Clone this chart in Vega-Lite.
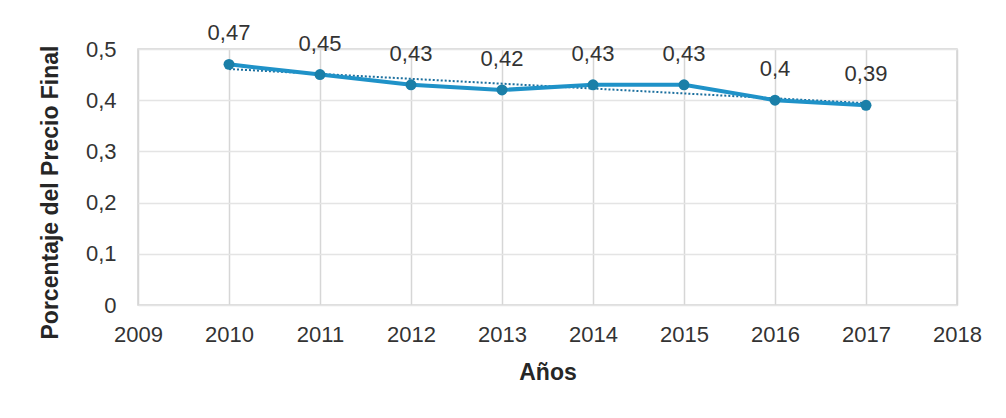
{
  "$schema": "https://vega.github.io/schema/vega-lite/v6.json",
  "autosize": {"type": "none"},
  "width": 819,
  "height": 256,
  "padding": {"left": 138, "top": 49, "right": 49, "bottom": 113},
  "background": "white",
  "config": {
    "locale": {"number": {"decimal": ",", "thousands": ".", "grouping": [3], "currency": ["", ""]}},
    "font": "Liberation Sans",
    "view": {"stroke": "#d4d4d4", "strokeWidth": 1.5},
    "axis": {"labelFont": "Liberation Sans", "titleFont": "Liberation Sans", "labelColor": "#333333", "titleColor": "#262626", "domain": false, "ticks": false}
  },
  "data": {"values": [
    {"anio": 2010, "valor": 0.47},
    {"anio": 2011, "valor": 0.45},
    {"anio": 2012, "valor": 0.43},
    {"anio": 2013, "valor": 0.42},
    {"anio": 2014, "valor": 0.43},
    {"anio": 2015, "valor": 0.43},
    {"anio": 2016, "valor": 0.40},
    {"anio": 2017, "valor": 0.39}
  ]},
  "encoding": {
    "x": {
      "field": "anio", "type": "quantitative",
      "scale": {"domain": [2009, 2018], "nice": false, "zero": false},
      "axis": {
        "title": "Años", "format": "d", "values": [2009, 2010, 2011, 2012, 2013, 2014, 2015, 2016, 2017, 2018],
        "labelFontSize": 22, "labelPadding": 19, "titleFontSize": 23, "titleFontWeight": "bold",
        "titleY": 67, "titleBaseline": "middle",
        "grid": true, "gridColor": "#d6d6d6", "gridWidth": 1.5,
        "labelFlush": false, "labelOverlap": false
      }
    },
    "y": {
      "field": "valor", "type": "quantitative",
      "scale": {"domain": [0, 0.5], "nice": false},
      "axis": {
        "title": "Porcentaje del Precio Final", "format": ".1~f", "values": [0, 0.1, 0.2, 0.3, 0.4, 0.5],
        "labelFontSize": 22, "labelPadding": 22, "titleFontSize": 23, "titleFontWeight": "bold",
        "titleX": -88, "titleY": 143, "titleBaseline": "middle", "titleAngle": 270,
        "grid": true, "gridColor": "#e4e4e4", "gridWidth": 1.5
      }
    }
  },
  "layer": [
    {
      "transform": [{"regression": "valor", "on": "anio"}],
      "mark": {"type": "line", "color": "#1b6f9e", "strokeWidth": 2, "strokeDash": [2, 2]}
    },
    {
      "mark": {"type": "line", "color": "#1f92c8", "strokeWidth": 4}
    },
    {
      "mark": {"type": "point", "shape": "circle", "filled": true, "color": "#1a7fa8", "size": 120, "opacity": 1}
    },
    {
      "mark": {"type": "text", "dy": -31, "fontSize": 22, "color": "#333333", "font": "Liberation Sans"},
      "encoding": {"text": {"field": "valor", "type": "quantitative", "format": ".2~f"}}
    }
  ]
}
